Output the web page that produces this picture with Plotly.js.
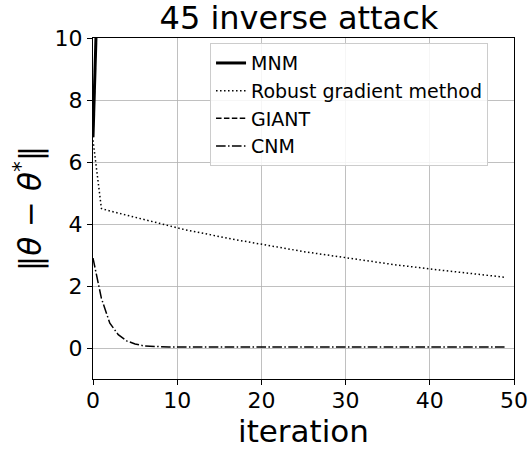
<!DOCTYPE html>
<html><head><meta charset="utf-8">
<script src="https://cdn.plot.ly/plotly-3.0.1.min.js"></script>
<style>html,body{margin:0;padding:0;background:#fff;}#chart{width:531px;height:449px;}</style>
</head><body><div id="chart"></div>
<script>
const iterations = Array.from({length: 50}, (_, i) => i);
const mnmIter = [0, 1, 2];
const mnmValues = [6.8, 12.5, 25];
const giantIter = [0, 1, 2];
const giantValues = [6.8, 12.5, 25];
const robustValues = [6.70,4.50,4.42,4.35,4.28,4.21,4.14,4.07,4.00,3.93,3.87,3.81,3.76,3.70,3.65,3.60,3.54,3.49,3.44,3.39,3.34,3.29,3.25,3.20,3.16,3.11,3.07,3.03,2.98,2.94,2.90,2.86,2.83,2.79,2.75,2.72,2.68,2.65,2.61,2.58,2.55,2.52,2.49,2.46,2.43,2.40,2.37,2.34,2.31,2.28];
const cnmValues = [2.90,1.60,0.80,0.43,0.23,0.13,0.07,0.05,0.04,0.03,0.03,0.03,0.03,0.03,0.03,0.03,0.03,0.03,0.03,0.03,0.03,0.03,0.03,0.03,0.03,0.03,0.03,0.03,0.03,0.03,0.03,0.03,0.03,0.03,0.03,0.03,0.03,0.03,0.03,0.03,0.03,0.03,0.03,0.03,0.03,0.03,0.03,0.03,0.03,0.03];
const xTicks = [0, 10, 20, 30, 40, 50];
const yTicks = [0, 2, 4, 6, 8, 10];

const font = "DejaVu Sans, sans-serif";
const traces = [
  {x: giantIter, y: giantValues, name: 'GIANT', mode: 'lines', line: {color: '#000', width: 1.5, dash: '5.5px,2.4px'}, legendrank: 3},
  {x: mnmIter, y: mnmValues, name: 'MNM', mode: 'lines', line: {color: '#000', width: 3}, legendrank: 1},
  {x: iterations, y: robustValues, name: 'Robust gradient method', mode: 'lines', line: {color: '#000', width: 1.5, dash: '1.5px,2.5px'}, legendrank: 2},
  {x: iterations, y: cnmValues, name: 'CNM', mode: 'lines', line: {color: '#000', width: 1.5, dash: '9.6px,2.4px,1.5px,2.4px'}, legendrank: 4}
];
const layout = {
  width: 531, height: 449,
  margin: {l: 93, r: 17, t: 38, b: 70},
  paper_bgcolor: '#fff', plot_bgcolor: '#fff',
  font: {family: font, color: '#000'},
  title: {text: '45 inverse attack', font: {size: 32, family: font, color: '#000'}, x: 0.563, xanchor: 'center', y: 0.985, yanchor: 'top'},
  xaxis: {
    range: [0, 50], tickvals: xTicks, ticktext: xTicks.map(String),
    showgrid: true, gridcolor: '#b0b0b0', gridwidth: 0.8, zeroline: false,
    showline: true, linecolor: '#000', linewidth: 1, mirror: true,
    ticks: 'outside', ticklen: 5, tickcolor: '#000', tickfont: {size: 22, family: font},
    ticklabelstandoff: -3,
    title: {text: 'iteration', font: {size: 31, family: font}, standoff: 0}
  },
  yaxis: {
    range: [-1, 10], tickvals: yTicks, ticktext: yTicks.map(String),
    showgrid: true, gridcolor: '#b0b0b0', gridwidth: 0.8, zeroline: false,
    showline: true, linecolor: '#000', linewidth: 1, mirror: true,
    ticks: 'outside', ticklen: 5, tickcolor: '#000', tickfont: {size: 22, family: font},
    title: {text: '‖<i>θ</i> − <i>θ</i><sup>*</sup>‖', font: {size: 31, family: font}, standoff: 3}
  },
  legend: {
    x: 0.278, y: 0.985, xanchor: 'left', yanchor: 'top',
    bgcolor: 'rgba(255,255,255,0.85)', bordercolor: '#cccccc', borderwidth: 1,
    font: {size: 19, family: font, color: '#000'},
    traceorder: 'normal'
  },
  showlegend: true
};
Plotly.newPlot('chart', traces, layout, {staticPlot: true, displayModeBar: false});
</script>
</body></html>
